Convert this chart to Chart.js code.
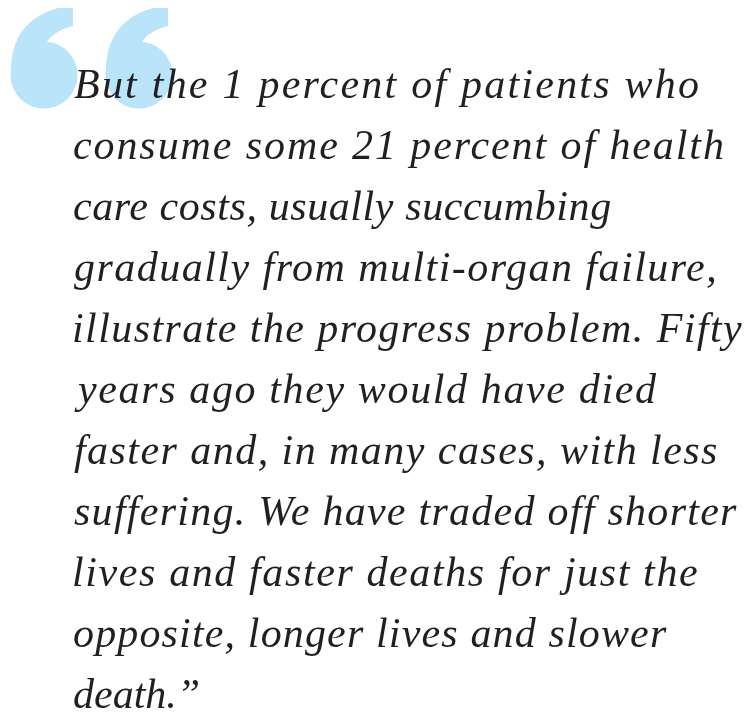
<!DOCTYPE html>
<html>
<head>
<meta charset="utf-8">
<script src="https://cdn.jsdelivr.net/npm/chart.js@4"></script>
<style>
  html, body { margin: 0; padding: 0; background: #ffffff; }
  #quoteChart { display: block; }
</style>
</head>
<body>
<canvas id="quoteChart" width="747" height="719"></canvas>
<script>
// quote text, one entry per printed line
const quoteLines = [
    'But the 1 percent of patients who',
    'consume some 21 percent of health',
    'care costs, usually succumbing',
    'gradually from multi-organ failure,',
    'illustrate the progress problem. Fifty',
    'years ago they would have died',
    'faster and, in many cases, with less',
    'suffering. We have traded off shorter',
    'lives and faster deaths for just the',
    'opposite, longer lives and slower',
    'death.\u201D'
];

// layout: where each line should end on the right (px), null = no extra spacing
const lineRightEdge = [698, 723, 610, 714, 742, 657, 717, 737, 697, 667, null];

const textLeft = 74;
const firstBaseline = 98;
const lineGap = 61;
const textFont = 'italic 42px "Liberation Serif", "DejaVu Serif", serif';
const textColor = '#231f20';
const quoteColor = '#b9e4f9';

// big opening quote mark, two "6" shapes
function drawQuoteMark(ctx, dx) {
    ctx.beginPath();
    ctx.arc(44 + dx, 75, 33.5, 0, Math.PI * 2);
    ctx.fill();
    ctx.beginPath();
    ctx.moveTo(58 + dx, 8);
    ctx.lineTo(73 + dx, 8);
    ctx.lineTo(73 + dx, 26);
    ctx.quadraticCurveTo(48 + dx, 32, 42 + dx, 52);
    ctx.lineTo(11 + dx, 78);
    ctx.quadraticCurveTo(8 + dx, 22, 58 + dx, 8);
    ctx.closePath();
    ctx.fill();
}

const quotePlugin = {
    id: 'quotePlugin',
    afterDraw(chart) {
        const ctx = chart.ctx;
        ctx.save();
        ctx.fillStyle = quoteColor;
        drawQuoteMark(ctx, 0);
        drawQuoteMark(ctx, 95);

        ctx.fillStyle = textColor;
        ctx.font = textFont;
        ctx.textBaseline = 'alphabetic';
        ctx.textAlign = 'left';
        const hasSpacing = 'letterSpacing' in ctx;

        quoteLines.forEach((line, i) => {
            const y = firstBaseline + i * lineGap;
            if (hasSpacing) ctx.letterSpacing = '0px';
            const m = ctx.measureText(line);
            const natural = m.actualBoundingBoxRight + m.actualBoundingBoxLeft;
            let sp = 0;
            if (lineRightEdge[i] !== null) {
                sp = (lineRightEdge[i] - textLeft - natural) / (line.length - 1);
            }
            if (hasSpacing) {
                ctx.letterSpacing = sp.toFixed(2) + 'px';
                ctx.fillText(line, textLeft + m.actualBoundingBoxLeft, y);
            } else {
                const target = natural + sp * (line.length - 1);
                ctx.save();
                ctx.translate(textLeft, y);
                ctx.scale(target / natural, 1);
                ctx.fillText(line, m.actualBoundingBoxLeft, 0);
                ctx.restore();
            }
        });
        ctx.restore();
    }
};

new Chart(document.getElementById('quoteChart'), {
    type: 'bar',
    data: { labels: [], datasets: [] },
    options: {
        responsive: false,
        animation: false,
        events: [],
        plugins: { legend: { display: false }, tooltip: { enabled: false } },
        scales: { x: { display: false }, y: { display: false } }
    },
    plugins: [quotePlugin]
});
</script>
</body>
</html>
